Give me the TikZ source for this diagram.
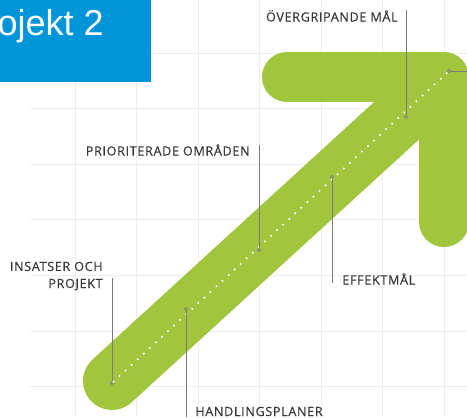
\documentclass[tikz,border=0pt]{standalone}
\usepackage{fontspec}
\setmainfont{Liberation Sans}
\newfontfamily\tagfont[LetterSpace=5, FakeBold=0.35]{Open Sans}
\usetikzlibrary{positioning}
\definecolor{cArrow}{HTML}{A2C53E}
\definecolor{cTitle}{HTML}{0095D8}
\definecolor{cGrid}{HTML}{EDEDED}
\definecolor{cTagText}{HTML}{383838}
\definecolor{cLine}{HTML}{7C7C7C}
\tikzset{
  heading/.style = {
    font=\fontsize{20.5}{24}\selectfont,
    text=white,
    inner sep=0
  },
  tag/.style = {
    font=\tagfont\fontsize{7.2}{9.7}\selectfont,
    text=cTagText,
    inner sep=0
  },
  knot/.style = {
    circle,
    draw=cLine,
    fill=cArrow,
    line width=0.4pt,
    minimum size=0.065cm,
    inner sep=0
  },
  leader/.style = {
    draw,
    color=cLine,
    line width=0.55pt
  },
  grid line/.style = {
    draw=cGrid,
    line width=0.5pt
  },
  beam/.style = {
    draw=cArrow,
    line cap=round,
    line join=round
  },
  dots/.style = {
    draw=white,
    line width=1.3pt,
    line cap=round,
    dash pattern=on 0pt off 4.7pt
  },
}

\begin{document}
\begin{tikzpicture}[x=0.02cm, y=-0.02cm]
    \useasboundingbox (0,0) rectangle (467,417);
    \clip (0,0) rectangle (467,417);
    % grid
    \foreach \gx in {75,136.5,198,259.5,321,382.5,444}
      \path [grid line] (\gx,0) -- (\gx,417);
    \foreach \gy in {53,108.6,164.2,219.8,275.4,331,386.6}
      \path [grid line] (30,\gy) -- (467,\gy);
    % title
    \fill [cTitle] (0,0) rectangle (150.5,81.7);
    \node [heading, anchor=base east] (title) at (104,35) {Projekt 2};
    % arrow
    \path [beam, line width=1.16cm] (112,381) -- (440,81);
    \path [beam, line width=1cm] (287,77) -- (444,77) -- (444,222);
    % markers
    \node [knot] (knot-0) at (112,383) {};
    \node [knot] (knot-1) at (186,309) {};
    \node [knot] (knot-2) at (259,250) {};
    \node [knot] (knot-3) at (332,177) {};
    \node [knot] (knot-4) at (406,117) {};
    \node [knot] (knot-5) at (449,71) {};
    \path [dots] (knot-0) -- (knot-5);
    % labels
    \node [tag, anchor=base east, align=right] (tag-0) at (103,288) {INSATSER OCH\\PROJEKT};
    \node [tag, anchor=base west] (tag-1) at (195,416) {HANDLINGSPLANER};
    \node [tag, anchor=base east] (tag-2) at (250,155.5) {PRIORITERADE OMRÅDEN};
    \node [tag, anchor=base west] (tag-3) at (342,284.5) {EFFEKTMÅL};
    \node [tag, anchor=base east] (tag-4) at (398,21.5) {ÖVERGRIPANDE MÅL};
    \coordinate (end-0) at (112,278);
    \coordinate (end-1) at (186,417);
    \coordinate (end-2) at (259,145);
    \coordinate (end-3) at (332,283);
    \coordinate (end-4) at (406,10);
    \coordinate (end-5) at (467,71);
    \path [leader] (knot-0) -- (end-0);
    \path [leader] (knot-1) -- (end-1);
    \path [leader] (knot-2) -- (end-2);
    \path [leader] (knot-3) -- (end-3);
    \path [leader] (knot-4) -- (end-4);
    \path [leader] (knot-5) -- (end-5);
\end{tikzpicture}
\end{document}
